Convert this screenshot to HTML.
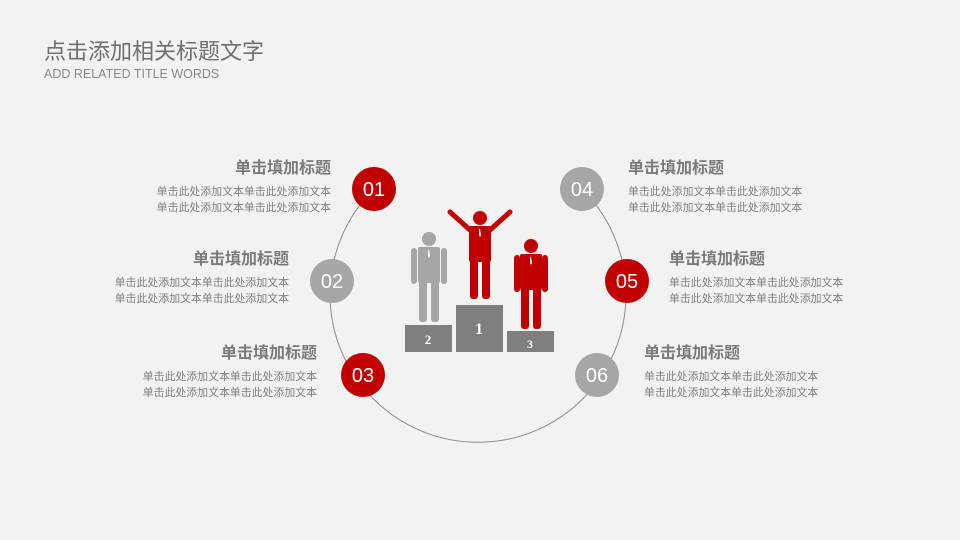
<!DOCTYPE html>
<html><head><meta charset="utf-8"><style>
body{margin:0;width:960px;height:540px;background:#f2f2f2;overflow:hidden;position:relative;font-family:"Liberation Sans","Noto Sans CJK SC",sans-serif}
.t{position:absolute;color:#767676}
.h{font-size:16px;font-weight:bold;color:#7a7a7a}
.s{font-size:10.9px;line-height:16px;color:#808080}
.r{text-align:right}
</style></head><body>
<div class="t" style="left:44px;top:34px;font-size:22px;color:#6f6f6f">点击添加相关标题文字</div>
<div class="t" style="left:44px;top:67px;font-size:12.5px;color:#8a8a8a">ADD RELATED TITLE WORDS</div>
<svg width="960" height="540" style="position:absolute;left:0;top:0">
<path d="M374,189 A148,148 0 1 0 582,189" fill="none" stroke="#8c8c8c" stroke-width="1"/>
<g font-family="Liberation Sans,sans-serif" font-size="20" fill="#fff" text-anchor="middle">
<circle cx="374" cy="189" r="22" fill="#c00000"/><text x="374" y="196">01</text>
<circle cx="332" cy="281" r="22" fill="#a6a6a6"/><text x="332" y="288">02</text>
<circle cx="363" cy="375" r="22" fill="#c00000"/><text x="363" y="382">03</text>
<circle cx="582" cy="189" r="22" fill="#a6a6a6"/><text x="582" y="196">04</text>
<circle cx="627" cy="281" r="22" fill="#c00000"/><text x="627" y="288">05</text>
<circle cx="597" cy="375" r="22" fill="#a6a6a6"/><text x="597" y="382">06</text>
</g>
<g fill="#a6a6a6">
<circle cx="429" cy="239" r="7"/>
<rect x="418" y="247" width="22" height="36" rx="2"/>
<rect x="411" y="248" width="6" height="36" rx="3"/>
<rect x="441" y="248" width="6" height="36" rx="3"/>
<rect x="419" y="280" width="8" height="42" rx="3"/>
<rect x="431" y="280" width="8" height="42" rx="3"/>
</g>
<g fill="#c00000">
<circle cx="480" cy="218" r="7"/>
<rect x="469" y="226" width="22" height="36" rx="2"/>
<path d="M470,230 L450,212" stroke="#c00000" stroke-width="5" stroke-linecap="round"/>
<path d="M490,230 L510,212" stroke="#c00000" stroke-width="5" stroke-linecap="round"/>
<rect x="470" y="258" width="8" height="41" rx="3"/>
<rect x="482" y="258" width="8" height="41" rx="3"/>
</g>
<g fill="#c00000">
<circle cx="531" cy="246" r="7"/>
<rect x="520" y="254" width="22" height="36" rx="2"/>
<rect x="514" y="255" width="6" height="37" rx="3"/>
<rect x="542" y="255" width="6" height="37" rx="3"/>
<rect x="521" y="287" width="8" height="42" rx="3"/>
<rect x="533" y="287" width="8" height="42" rx="3"/>
</g>
<g fill="#fff"><path d="M428,250 l1,0 l1,6 l-1,2 l-1,-2z"/><path d="M479,229 l1,0 l1,6 l-1,2 l-1,-2z"/><path d="M530,257 l1,0 l1,6 l-1,2 l-1,-2z"/></g>
<g fill="#7f7f7f">
<rect x="405" y="325" width="47" height="27"/>
<rect x="456" y="305" width="47" height="47"/>
<rect x="507" y="331" width="47" height="21"/>
</g>
<g fill="#fff" font-family="Liberation Serif,serif" font-weight="bold" text-anchor="middle">
<text x="428" y="344" font-size="13">2</text>
<text x="479" y="334" font-size="16">1</text>
<text x="530" y="348" font-size="12">3</text>
</g>
</svg>
<div class="t r" style="left:100px;width:231px;top:154px"><div class="h">单击填加标题</div><div class="s" style="margin-top:6px">单击此处添加文本单击此处添加文本<br>单击此处添加文本单击此处添加文本</div></div>
<div class="t r" style="left:60px;width:229px;top:245px"><div class="h">单击填加标题</div><div class="s" style="margin-top:6px">单击此处添加文本单击此处添加文本<br>单击此处添加文本单击此处添加文本</div></div>
<div class="t r" style="left:80px;width:237px;top:339px"><div class="h">单击填加标题</div><div class="s" style="margin-top:6px">单击此处添加文本单击此处添加文本<br>单击此处添加文本单击此处添加文本</div></div>
<div class="t" style="left:628px;top:154px"><div class="h">单击填加标题</div><div class="s" style="margin-top:6px">单击此处添加文本单击此处添加文本<br>单击此处添加文本单击此处添加文本</div></div>
<div class="t" style="left:669px;top:245px"><div class="h">单击填加标题</div><div class="s" style="margin-top:6px">单击此处添加文本单击此处添加文本<br>单击此处添加文本单击此处添加文本</div></div>
<div class="t" style="left:644px;top:339px"><div class="h">单击填加标题</div><div class="s" style="margin-top:6px">单击此处添加文本单击此处添加文本<br>单击此处添加文本单击此处添加文本</div></div>
</body></html>
